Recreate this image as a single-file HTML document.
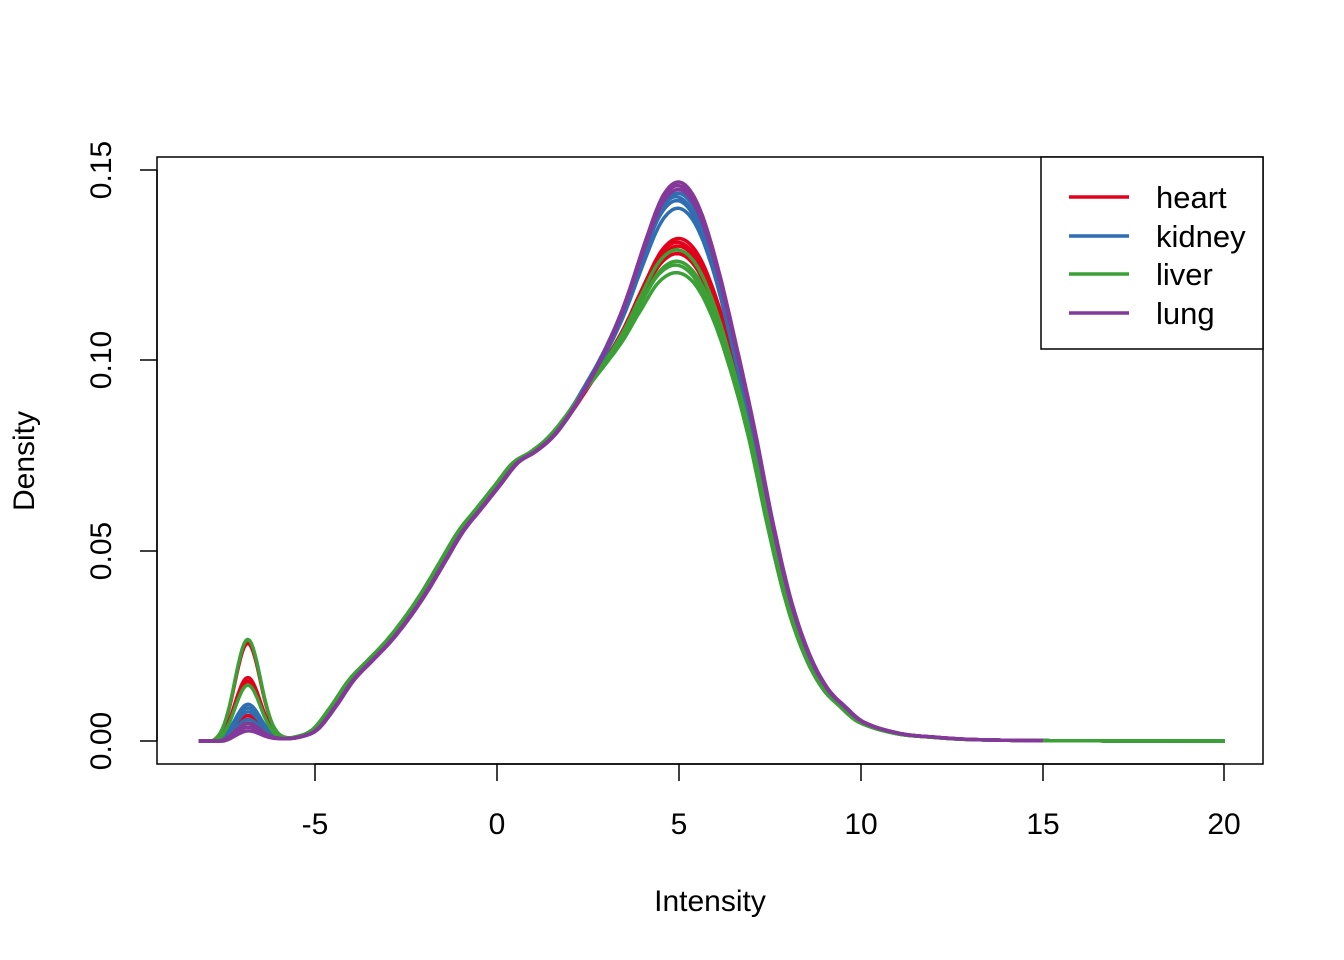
<!DOCTYPE html>
<html><head><meta charset="utf-8"><style>body{margin:0;background:#fff}svg{display:block}text{font-family:"Liberation Sans",Arial,sans-serif;fill:#000}</style></head>
<body>
<svg id="s" width="1344" height="960" viewBox="0 0 1344 960">
<rect x="157" y="157" width="1106" height="607" fill="none" stroke="#000" stroke-width="1.5"/>
<g id="curves" fill="none" stroke-width="3.5" stroke-linejoin="round"></g>
<g stroke="#000" stroke-width="1.5">
<line x1="315" y1="764" x2="1224" y2="764"/>
<line x1="315" y1="764" x2="315" y2="781"/><line x1="497" y1="764" x2="497" y2="781"/><line x1="679" y1="764" x2="679" y2="781"/><line x1="861" y1="764" x2="861" y2="781"/><line x1="1043" y1="764" x2="1043" y2="781"/><line x1="1224" y1="764" x2="1224" y2="781"/>
<line x1="157" y1="741" x2="157" y2="170"/>
<line x1="157" y1="741" x2="140" y2="741"/><line x1="157" y1="551" x2="140" y2="551"/><line x1="157" y1="360" x2="140" y2="360"/><line x1="157" y1="170" x2="140" y2="170"/>
</g>
<g font-size="30" text-anchor="middle">
<text x="315" y="834">-5</text><text x="497" y="834">0</text><text x="679" y="834">5</text><text x="861" y="834">10</text><text x="1043" y="834">15</text><text x="1224" y="834">20</text>
<text transform="translate(111,741) rotate(-90)">0.00</text>
<text transform="translate(111,551) rotate(-90)">0.05</text>
<text transform="translate(111,360) rotate(-90)">0.10</text>
<text transform="translate(111,170) rotate(-90)">0.15</text>
<text x="710" y="911">Intensity</text>
<text transform="translate(34,461) rotate(-90)">Density</text>
</g>
<rect x="1041" y="157" width="222" height="192" fill="#fff" stroke="#000" stroke-width="1.5"/>
<g stroke-width="3.5">
<line x1="1069" y1="197" x2="1129" y2="197" stroke="#E3001B"/>
<line x1="1069" y1="236" x2="1129" y2="236" stroke="#2F6EB0"/>
<line x1="1069" y1="274" x2="1129" y2="274" stroke="#3BA036"/>
<line x1="1069" y1="313" x2="1129" y2="313" stroke="#84399A"/>
</g>
<g font-size="31">
<text x="1156" y="208">heart</text><text x="1156" y="247">kidney</text><text x="1156" y="285">liver</text><text x="1156" y="324">lung</text>
</g>
</svg>
<script>
var P=[[-8.2,0],[-7,0],[-6,0.0005],[-5.5,0.001],[-5,0.003],[-4.5,0.009],[-4,0.016],[-3.5,0.021],[-3,0.026],[-2.5,0.032],[-2,0.039],[-1.5,0.047],[-1,0.055],[-0.5,0.061],[0,0.067],[0.5,0.073],[1,0.076],[1.5,0.08],[2,0.086],[2.5,0.093],[3,0.1],[3.5,0.108],[4,0.118],[4.5,0.127],[5,0.13],[5.5,0.126],[6,0.115],[6.5,0.099],[7,0.08],[7.5,0.057],[8,0.037],[8.5,0.023],[9,0.014],[9.5,0.009],[10,0.005],[11,0.002],[12,0.001],[13,0.0004],[15,0.0001],[20,0]];
function base(v){for(var i=0;i<P.length-1;i++){if(v<=P[i+1][0]){var a=P[Math.max(0,i-1)],b=P[i],c=P[i+1],d=P[Math.min(P.length-1,i+2)];var t=(v-b[0])/(c[0]-b[0]);var m1=(c[1]-a[1])/(c[0]-a[0])*(c[0]-b[0]),m2=(d[1]-b[1])/(d[0]-b[0])*(c[0]-b[0]);var t2=t*t,t3=t2*t;return (2*t3-3*t2+1)*b[1]+(t3-2*t2+t)*m1+(-2*t3+3*t2)*c[1]+(t3-t2)*m2;}}return 0;}
function g(v,m,s){return Math.exp(-0.5*(v-m)*(v-m)/(s*s));}
var groups=[["#E3001B",[[0.13,0.017,0],[0.128,0.016,0.1],[0.132,0.026,-0.1],[0.129,0.006,0.15],[0.131,0.007,0.05]],20],
["#2F6EB0",[[0.14,0.01,-0.1],[0.142,0.008,0],[0.144,0.006,-0.15],[0.143,0.009,0.1]],20],
["#3BA036",[[0.123,0.027,0.2],[0.126,0.015,0.15],[0.129,0.005,0.1],[0.125,0.004,0.25]],20],
["#84399A",[[0.145,0.003,-0.2],[0.147,0.004,-0.25],[0.146,0.005,-0.15]],15]];
var out="";
groups.forEach(function(gr){gr[1].forEach(function(p){var d="";for(var v=-8.2;v<=gr[2]+1e-9;v+=0.05){var y=base(v+p[2]*0.3)+(p[0]-0.13)*g(v,4.85,1.1)+p[1]*g(v,-6.85,0.35);if(v<-6)y-=0.0005*(1-g(v,-6,0.5));if(y<0)y=0;var X=497+36.4*v,Y=741-3807*y;d+=(d?"L":"M")+X.toFixed(1)+","+Y.toFixed(1);}out+='<path stroke="'+gr[0]+'" d="'+d+'"/>';});});
document.getElementById("curves").innerHTML=out;
</script>
</body></html>
